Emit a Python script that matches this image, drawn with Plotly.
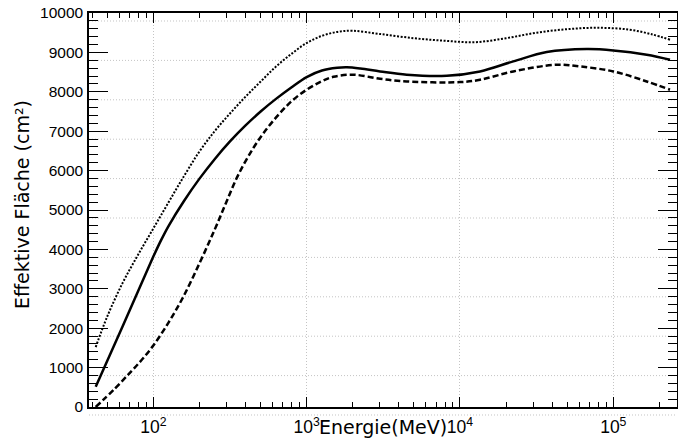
import plotly.graph_objects as go

# Energies (MeV) and effective area (cm^2)
energy_solid = [42.1, 63.1, 100, 112.2, 125.9, 158.5, 199.5, 251.2, 316.2, 398.1, 501.2, 631,
                794.3, 1000, 1259, 1585, 1828, 2239, 3013, 4498, 8204, 13520, 22280, 36810,
                67140, 100000, 165200, 234400]
area_solid = [516, 2049, 3817, 4230, 4600, 5230, 5790, 6290, 6740, 7140, 7500, 7820,
              8110, 8374, 8540, 8608, 8620, 8590, 8517, 8433, 8408, 8517, 8771, 9009,
              9085, 9051, 8941, 8814]

energy_dashed = [42.1, 56.2, 70.8, 83.9, 100, 125.9, 157, 201.8, 251.2, 297.8, 354.8, 448.7,
                 549.5, 669.9, 812.8, 1000, 1230, 1493, 2018, 3013, 4498, 10000, 13520,
                 22280, 42760, 60670, 100000, 165200, 234400]
area_dashed = [0, 470, 880, 1194, 1560, 2150, 2800, 3680, 4500, 5180, 5860, 6571,
               7060, 7460, 7790, 8052, 8250, 8380, 8433, 8331, 8263, 8246, 8305,
               8517, 8687, 8644, 8517, 8263, 8052]

energy_dotted = [42.1, 50.1, 63.1, 79.4, 100, 125.9, 158.5, 199.5, 251.2, 316.2, 398.1, 501.2,
                 631, 794.3, 1000, 1259, 1585, 1995, 3013, 5012, 7943, 12590, 19950,
                 31620, 50120, 79430, 125900, 177800, 234400]
area_dotted = [1520, 2300, 3150, 3860, 4530, 5200, 5860, 6480, 7000, 7450, 7870, 8260,
               8640, 8960, 9238, 9420, 9520, 9550, 9467, 9360, 9295, 9260, 9360,
               9500, 9590, 9625, 9580, 9460, 9322]

y_ticks = [0, 1000, 2000, 3000, 4000, 5000, 6000, 7000, 8000, 9000, 10000]
x_range_log = [1.5805, 5.4155]
y_range = [0, 10000]

fig = go.Figure()
fig.add_trace(go.Scatter(x=energy_dotted, y=area_dotted, mode="lines",
                         line=dict(color="black", width=2, dash="2px,1.6px", shape="spline", smoothing=1.0),
                         showlegend=False, hoverinfo="skip"))
fig.add_trace(go.Scatter(x=energy_solid, y=area_solid, mode="lines",
                         line=dict(color="black", width=2.5, shape="spline", smoothing=1.0),
                         showlegend=False, hoverinfo="skip"))
fig.add_trace(go.Scatter(x=energy_dashed, y=area_dashed, mode="lines",
                         line=dict(color="black", width=2.5, dash="6px,3px", shape="spline", smoothing=1.0),
                         showlegend=False, hoverinfo="skip"))

# y grid lines (drawn slightly below their tick positions, as in the original)
grid_color = "#c4c4c4"
grid_dash = "1px,2px"
grid_offset = 203
for v in y_ticks:
    yp = (v - grid_offset - y_range[0]) / (y_range[1] - y_range[0])
    fig.add_shape(type="line", xref="paper", yref="paper", x0=0, x1=1, y0=yp, y1=yp,
                  line=dict(color=grid_color, width=1, dash=grid_dash), layer="below")

fig.update_layout(
    width=678, height=439,
    margin=dict(l=89, r=1, t=13, b=32),
    paper_bgcolor="white", plot_bgcolor="white",
    font=dict(family="Liberation Sans, Arial, sans-serif", color="black", size=15),
)
fig.update_xaxes(
    type="log", range=x_range_log, dtick=1, exponentformat="power", automargin=False,
    showline=True, linecolor="black", linewidth=1.5, mirror="ticks",
    ticks="inside", ticklen=10, tickwidth=1.2, tickcolor="black",
    minor=dict(ticks="inside", ticklen=5, tickwidth=1.2, tickcolor="black", dtick="D1", showgrid=False),
    showgrid=True, gridcolor=grid_color, griddash=grid_dash, gridwidth=1,
    tickfont=dict(size=14), ticklabelstandoff=4,
    zeroline=False,
)
fig.update_yaxes(
    range=y_range, tickvals=y_ticks, tickformat="d", automargin=False,
    showline=True, linecolor="black", linewidth=1.5, mirror="ticks",
    ticks="inside", ticklen=19, tickwidth=1.2, tickcolor="black",
    minor=dict(ticks="inside", ticklen=9, tickwidth=1.2, tickcolor="black", dtick=200, showgrid=False),
    showgrid=False, zeroline=False,
    tickfont=dict(size=15.5), ticklabelstandoff=1,
)

fig.add_annotation(text="Energie(MeV)", xref="paper", yref="paper", x=0.5, y=0,
                   xanchor="center", yanchor="bottom", yshift=-33, showarrow=False,
                   font=dict(family="DejaVu Sans", size=19, color="black"))
fig.add_annotation(text="Effektive Fläche (cm²)", xref="paper", yref="paper", x=0, y=0.5,
                   xanchor="center", yanchor="middle", xshift=-67, yshift=5, textangle=-90,
                   showarrow=False, font=dict(family="DejaVu Sans", size=19, color="black"))

fig.write_html("out.html", config={"displayModeBar": False},
               post_script="document.body.style.margin='0';document.body.style.padding='0';")
